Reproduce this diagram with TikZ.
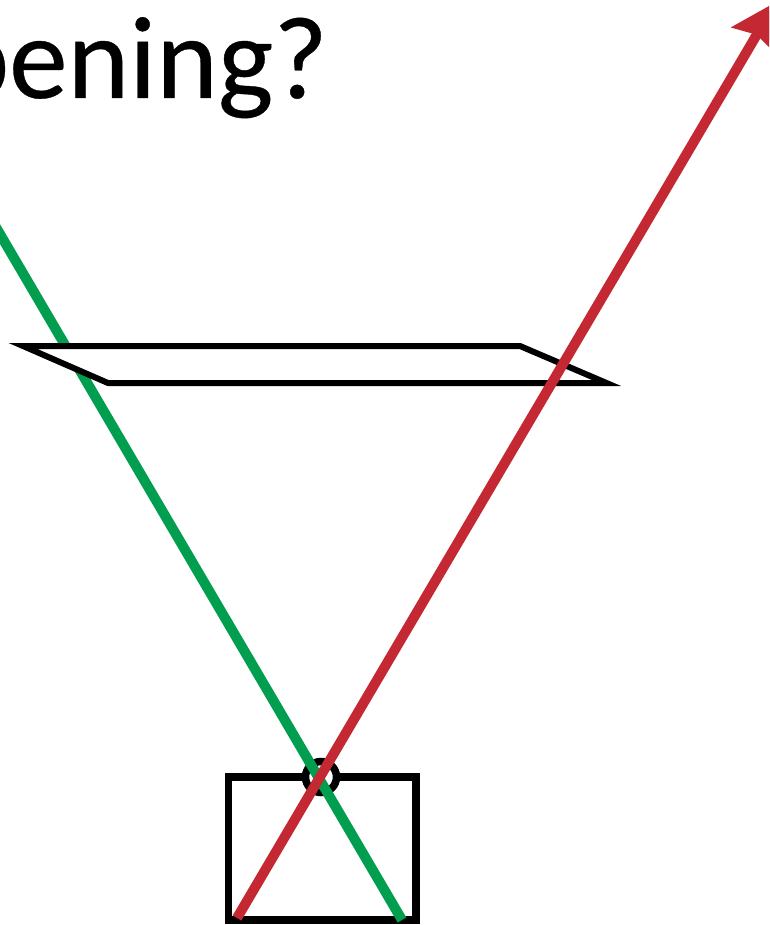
\documentclass[tikz,border=0pt]{standalone}
\usepackage{fontspec}
\setmainfont[FakeBold=0.3]{Carlito}
\usetikzlibrary{arrows.meta}
\definecolor{raygreen}{RGB}{0,158,78}
\definecolor{rayred}{RGB}{196,40,50}
\tikzset{
  outline/.style={draw=black,line width=7.5pt,fill=white,miter limit=20},
  plane/.style={draw=black,line width=6pt,fill=white,miter limit=20,line join=miter},
  ray/.style={line width=10pt}
}
\begin{document}
\begin{tikzpicture}[x=1pt,y=-1pt]
\useasboundingbox (0,0) rectangle (769,925);
\clip (0,0) rectangle (769,925);
\fill[white] (0,0) rectangle (769,925);
\node[anchor=base east,inner sep=0pt,font=\fontsize{117.5pt}{117.5pt}\selectfont] (title) at (328,98) {pening?};
\coordinate (boxNW) at (228.5,777);
\coordinate (boxSE) at (416,920);
\coordinate (lens) at (321,777);
\coordinate (greenA) at (-20,200);
\coordinate (greenB) at (402,920);
\coordinate (redA) at (237,918);
\coordinate (redB) at (776,2);
\coordinate (p1) at (23,346);
\coordinate (p2) at (520,346);
\coordinate (p3) at (606.5,383);
\coordinate (p4) at (108,383);
\draw[outline] (boxNW) rectangle (boxSE);
\draw[outline] (lens) circle[radius=15.5];
\draw[ray,raygreen] (greenA) -- (greenB);
\draw[plane] (p1) -- (p2) -- (p3) -- (p4) -- cycle;
\draw[ray,rayred,-{Stealth[length=44pt,width=50pt,inset=6pt]}] (redA) -- (redB);
\end{tikzpicture}
\end{document}
